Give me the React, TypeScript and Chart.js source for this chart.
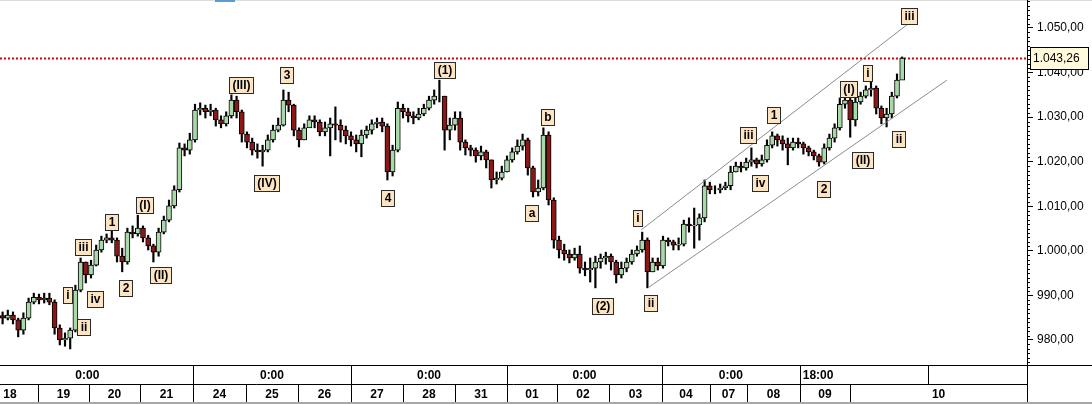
import React, { useEffect, useRef } from "react";
import { Chart, registerables } from "chart.js";

Chart.register(...registerables);

// ---- price data (one candle per slot, open = previous close) ----
const FIRST_OPEN = 985.5;
const LAST_PRICE = 1043.26;

const CLOSE = [
  984.9, 985.6, 984.5, 982.2, 984.9, 988.5, 989.6, 989.0, 989.4, 988.5,
  982.7, 980.0, 980.4, 982.2, 991.2, 997.5, 994.6, 996.8, 1000.2, 1002.4,
  1002.9, 1002.4, 998.8, 997.5, 1004.2, 1003.8, 1005.1, 1002.9, 1001.1, 999.7,
  1004.2, 1006.9, 1010.1, 1013.7, 1023.1, 1022.6, 1024.9, 1031.6, 1032.0, 1031.2,
  1031.6, 1029.4, 1028.5, 1030.3, 1033.8, 1031.2, 1026.2, 1024.4, 1022.6, 1022.2,
  1022.6, 1024.9, 1027.1, 1028.2, 1033.8, 1032.7, 1027.1, 1024.9, 1027.6, 1029.4,
  1028.9, 1026.7, 1027.6, 1028.5, 1028.2, 1027.1, 1025.8, 1024.9, 1024.0, 1026.0,
  1027.1, 1028.5, 1028.9, 1028.0, 1017.7, 1022.6, 1032.0, 1031.2, 1030.3, 1029.8,
  1030.7, 1032.0, 1033.8, 1034.7, 1034.7, 1027.1, 1028.2, 1029.8, 1024.4, 1023.1,
  1022.6, 1021.3, 1022.2, 1020.4, 1015.9, 1016.3, 1017.7, 1020.4, 1022.2, 1023.5,
  1024.9, 1018.6, 1013.2, 1014.1, 1026.0, 1011.4, 1002.4, 1000.2, 999.3, 998.4,
  999.3, 996.1, 995.7, 996.1, 997.5, 998.4, 998.8, 997.5, 994.6, 996.1,
  997.5, 999.3, 1000.2, 1002.4, 995.3, 997.5, 996.6, 1002.4, 1002.0, 1001.3,
  1001.5, 1006.0, 1005.6, 1005.8, 1007.4, 1014.6, 1013.7, 1013.7, 1014.1, 1014.6,
  1017.7, 1019.0, 1018.6, 1019.9, 1020.4, 1019.5, 1020.4, 1023.7, 1025.8, 1024.9,
  1024.0, 1023.1, 1024.4, 1024.0, 1023.1, 1022.2, 1021.3, 1019.9, 1023.1, 1025.3,
  1027.6, 1032.9, 1033.8, 1029.4, 1033.4, 1034.7, 1036.1, 1036.5, 1032.0, 1029.8,
  1030.7, 1034.7, 1038.3, 1043.26,
];

const HIGH = [
  986.3, 986.7, 986.3, 984.9, 986.1, 989.4, 990.5, 990.3, 990.5, 990.5,
  989.0, 983.4, 981.6, 982.7, 992.3, 998.4, 997.5, 997.9, 1001.3, 1003.3,
  1003.8, 1004.5, 1002.9, 1000.6, 1005.1, 1005.6, 1008.0, 1005.6, 1003.5, 1001.5,
  1005.1, 1007.8, 1011.4, 1014.6, 1024.2, 1024.0, 1026.4, 1032.9, 1033.2, 1032.7,
  1032.9, 1032.0, 1030.3, 1031.2, 1035.0, 1034.7, 1031.6, 1026.7, 1025.3, 1024.0,
  1023.7, 1026.0, 1028.2, 1029.8, 1036.1, 1035.6, 1032.9, 1027.6, 1028.5, 1030.3,
  1030.3, 1029.4, 1028.9, 1029.8, 1032.3, 1029.4, 1028.0, 1026.7, 1026.0, 1027.1,
  1028.0, 1029.4, 1029.8, 1029.8, 1028.5, 1023.7, 1033.4, 1032.9, 1032.0, 1031.2,
  1032.0, 1032.9, 1034.7, 1036.1, 1038.3, 1034.7, 1029.8, 1031.2, 1031.2, 1024.9,
  1023.7, 1023.1, 1023.5, 1022.6, 1020.4, 1017.7, 1019.0, 1021.3, 1023.1, 1024.9,
  1026.2, 1025.3, 1019.0, 1015.9, 1027.6, 1026.7, 1011.9, 1003.3, 1001.5, 1000.2,
  1000.6, 1001.1, 997.5, 998.4, 998.8, 999.3, 999.7, 999.3, 997.9, 997.5,
  998.4, 1000.2, 1001.1, 1004.2, 1002.9, 998.4, 998.4, 1003.3, 1002.9, 1002.4,
  1002.9, 1006.9, 1007.4, 1009.6, 1008.3, 1015.9, 1015.4, 1014.6, 1015.0, 1015.4,
  1019.0, 1019.9, 1019.9, 1020.8, 1023.1, 1020.8, 1021.5, 1024.9, 1026.7, 1026.2,
  1025.8, 1025.3, 1025.3, 1025.3, 1024.4, 1023.5, 1022.6, 1021.7, 1024.0, 1026.2,
  1028.5, 1034.3, 1035.0, 1034.7, 1034.3, 1035.6, 1037.0, 1037.9, 1037.0, 1032.5,
  1032.0, 1035.6, 1039.7, 1043.5,
];

const LOW = [
  983.6, 984.5, 983.6, 980.7, 981.3, 984.5, 988.1, 988.1, 988.3, 987.9,
  981.3, 978.9, 978.6, 978.0, 981.8, 990.8, 992.8, 993.9, 996.6, 999.7,
  1001.8, 1001.8, 997.5, 995.3, 997.0, 1002.9, 1003.3, 1002.0, 1000.2, 997.5,
  998.8, 1003.8, 1006.5, 1009.6, 1013.2, 1021.3, 1021.7, 1024.4, 1030.5, 1029.8,
  1030.3, 1028.0, 1027.6, 1028.0, 1029.8, 1029.8, 1024.4, 1023.1, 1021.5, 1020.8,
  1019.0, 1022.2, 1024.4, 1026.7, 1028.0, 1031.2, 1025.8, 1023.3, 1024.9, 1028.0,
  1027.6, 1025.8, 1025.8, 1021.3, 1024.9, 1024.4, 1024.0, 1023.5, 1022.2, 1021.1,
  1025.3, 1026.2, 1027.6, 1026.7, 1015.9, 1016.8, 1022.2, 1029.8, 1028.9, 1028.5,
  1029.4, 1030.3, 1031.6, 1032.9, 1033.4, 1022.6, 1024.9, 1027.1, 1022.6, 1021.5,
  1021.3, 1019.9, 1020.4, 1018.6, 1014.1, 1015.0, 1015.9, 1017.7, 1019.9, 1021.7,
  1022.6, 1017.0, 1012.1, 1012.3, 1013.7, 1010.3, 1000.6, 998.4, 997.9, 997.3,
  997.9, 995.0, 994.4, 993.0, 991.7, 996.1, 997.0, 995.7, 992.8, 993.9,
  995.3, 997.0, 998.8, 999.7, 991.7, 995.3, 995.7, 996.1, 1001.1, 1000.2,
  1000.2, 1001.1, 1004.2, 1000.6, 1002.4, 1006.5, 1012.8, 1012.8, 1013.0, 1013.7,
  1013.7, 1017.7, 1017.7, 1018.1, 1019.0, 1018.6, 1019.0, 1019.9, 1023.1, 1023.5,
  1022.6, 1019.3, 1022.6, 1023.1, 1021.7, 1021.3, 1020.4, 1019.0, 1019.5, 1022.6,
  1024.4, 1027.1, 1032.0, 1025.5, 1028.0, 1032.9, 1034.3, 1034.7, 1030.7, 1028.5,
  1027.8, 1029.8, 1034.3, 1040.6,
];

// ---- time axis (slot units) ----
const X_MIN = -0.5;
const X_MAX = 197;
const DAY_EDGES = [-4, 6.8, 16.6, 26.4, 36.6, 46.8, 56.8, 67.0, 77.0, 87.0, 97.0, 106.6, 116.6, 126.8, 136.0, 143.2, 153.3, 163.0, 197];
const DAY_LABELS = ["18", "19", "20", "21", "24", "25", "26", "27", "28", "31", "01", "02", "03", "04", "07", "08", "09", "10"];
const WEEK_EDGES = [-4, 36.6, 67.0, 97.0, 126.8, 153.3, 178.0, 197];
const WEEK_LABELS = ["0:00", "0:00", "0:00", "0:00", "0:00", "18:00", ""];

// ---- price axis ----
const Y_MIN = 974.39;
const Y_MAX = 1056.28;
const Y_TICKS = [980, 990, 1000, 1010, 1020, 1030, 1040, 1050];

// ---- channel lines ----
const UPPER_X = [122.8, 173.9];
const UPPER_Y = [1004.7, 1050.7];
const LOWER_X = [124.1, 181.6];
const LOWER_Y = [991.7, 1038.3];

// ---- wave labels ----
const WAVE_TEXT = ["i", "ii", "iii", "iv", "1", "2", "(I)", "(II)", "(III)", "3", "(IV)", "4", "(1)", "b", "a", "(2)", "i", "ii", "iii", "iv", "1", "2", "(I)", "(II)", "i", "ii", "iii"];
const WAVE_X = [12.5, 15.6, 15.5, 17.8, 21.0, 23.7, 27.2, 30.3, 45.9, 54.6, 50.8, 74.1, 85.0, 104.8, 101.8, 115.4, 122.1, 124.6, 143.4, 145.6, 148.2, 157.8, 162.7, 165.3, 166.4, 172.2, 174.4];
const WAVE_Y = [990.1, 982.9, 1000.9, 989.2, 1006.5, 991.7, 1010.3, 994.6, 1037.1, 1039.5, 1015.3, 1011.9, 1040.5, 1030.0, 1008.4, 987.7, 1007.3, 988.3, 1026.0, 1015.3, 1030.5, 1013.8, 1036.3, 1020.4, 1039.9, 1025.1, 1052.8];

const FONT = "'Liberation Sans', Arial, sans-serif";
const UP = "#a9d9a9";
const DOWN = "#8a1818";

function fmt(v: number): string {
  const [int, dec] = v.toFixed(2).split(".");
  const withSep = int.replace(/\B(?=(\d{3})+(?!\d))/g, ".");
  return withSep + "," + dec;
}

const overlayPlugin = {
  id: "overlay",
  beforeDatasetsDraw(chart: any) {
    const { ctx, chartArea, scales } = chart;
    const y = Math.round(scales.y.getPixelForValue(LAST_PRICE)) + 0.5;
    ctx.save();
    ctx.strokeStyle = "#d40000";
    ctx.lineWidth = 2;
    ctx.setLineDash([2, 2]);
    ctx.beginPath();
    ctx.moveTo(chartArea.left, y);
    ctx.lineTo(chartArea.right, y);
    ctx.stroke();
    ctx.restore();
  },
  afterDatasetsDraw(chart: any) {
    const { ctx, scales } = chart;
    ctx.save();
    ctx.font = "bold 12px " + FONT;
    ctx.textAlign = "center";
    ctx.textBaseline = "middle";
    ctx.lineWidth = 1;
    WAVE_TEXT.forEach((t, k) => {
      const cx = scales.x.getPixelForValue(WAVE_X[k]);
      const cy = scales.y.getPixelForValue(WAVE_Y[k]);
      const w = Math.round(ctx.measureText(t).width + 6);
      const h = 16;
      const l = Math.round(cx - w / 2) + 0.5;
      const tp = Math.round(cy - h / 2) + 0.5;
      ctx.fillStyle = "#fde5c4";
      ctx.fillRect(l, tp, w, h);
      ctx.strokeStyle = "#2a2a2a";
      ctx.strokeRect(l, tp, w, h);
      ctx.fillStyle = "#000";
      ctx.fillText(t, l + w / 2, tp + h / 2 + 0.5);
    });
    ctx.restore();
  },
  afterDraw(chart: any) {
    const { ctx, chartArea, scales, width, height } = chart;
    const bottom = chartArea.bottom;
    const right = chartArea.right;
    const rowH = 19;
    const xs = scales.x;
    const ys = scales.y;
    ctx.save();
    ctx.lineWidth = 1;
    ctx.strokeStyle = "#000";
    const line = (x1: number, y1: number, x2: number, y2: number) => {
      ctx.beginPath();
      ctx.moveTo(x1, y1);
      ctx.lineTo(x2, y2);
      ctx.stroke();
    };
    // top border + toolbar hint
    ctx.fillStyle = "#dcdcdc";
    ctx.fillRect(0, 0, width, 1);
    ctx.fillStyle = "#5b9bd5";
    ctx.fillRect(215, 0, 20, 2);

    // minor y ticks
    for (let v = Math.ceil(Y_MIN); v <= Math.floor(Y_MAX); v++) {
      if (v % 10 === 0) continue;
      const py = Math.round(ys.getPixelForValue(v)) + 0.5;
      line(right, py, right + 3, py);
    }

    // time axis panel
    line(0, bottom + 0.5, width, bottom + 0.5);
    line(0, bottom + rowH + 0.5, right, bottom + rowH + 0.5);
    line(right + 0.5, 0, right + 0.5, height);
    ctx.font = "bold 12px " + FONT;
    ctx.fillStyle = "#000";
    ctx.textBaseline = "middle";
    ctx.save();
    ctx.beginPath();
    ctx.rect(0, bottom, right, height - bottom);
    ctx.clip();
    for (let k = 0; k < WEEK_LABELS.length; k++) {
      const a = xs.getPixelForValue(WEEK_EDGES[k]);
      const b = xs.getPixelForValue(WEEK_EDGES[k + 1]);
      if (k > 0) line(Math.round(a) + 0.5, bottom, Math.round(a) + 0.5, bottom + rowH);
      const t = WEEK_LABELS[k];
      if (t === "0:00") {
        ctx.textAlign = "center";
        ctx.fillText(t, (a + b) / 2, bottom + rowH / 2 + 1);
      } else if (t) {
        ctx.textAlign = "left";
        ctx.fillText(t, a + 3, bottom + rowH / 2 + 1);
      }
    }
    for (let k = 0; k < DAY_LABELS.length; k++) {
      const a = xs.getPixelForValue(DAY_EDGES[k]);
      const b = xs.getPixelForValue(DAY_EDGES[k + 1]);
      if (k > 0) line(Math.round(a) + 0.5, bottom + rowH, Math.round(a) + 0.5, bottom + 2 * rowH);
      ctx.textAlign = "center";
      ctx.fillText(DAY_LABELS[k], (a + b) / 2, bottom + rowH * 1.5 + 1);
    }
    ctx.restore();
    ctx.fillStyle = "#a8a8a8";
    ctx.fillRect(0, height - 2, width, 2);

    // last price tag
    const py = Math.round(ys.getPixelForValue(LAST_PRICE));
    ctx.fillStyle = "#fffbdc";
    ctx.fillRect(right + 3.5, py - 10.5, 58, 22);
    ctx.strokeStyle = "#000";
    ctx.strokeRect(right + 3.5, py - 10.5, 58, 22);
    ctx.fillStyle = "#000";
    ctx.font = "12px " + FONT;
    ctx.textAlign = "left";
    ctx.textBaseline = "middle";
    ctx.fillText(fmt(LAST_PRICE), right + 6, py + 1);
    ctx.restore();
  },
};

export default function App() {
  const ref = useRef<HTMLCanvasElement>(null);
  useEffect(() => {
    document.body.style.margin = "0";
    const canvas = ref.current!;
    const opens = CLOSE.map((c, i) => (i === 0 ? FIRST_OPEN : CLOSE[i - 1]));
    const wickData = CLOSE.map((_, i) => ({ x: i, y: [LOW[i], HIGH[i]] }));
    const bodyData = CLOSE.map((c, i) => ({ x: i, y: [opens[i], c] }));
    const bodyColors = CLOSE.map((c, i) => (c >= opens[i] ? UP : DOWN));
    const chart = new Chart(canvas, {
      type: "bar",
      data: {
        datasets: [
          {
            type: "line",
            data: UPPER_X.map((x, i) => ({ x, y: UPPER_Y[i] })),
            borderColor: "#8c8c8c",
            borderWidth: 1,
            pointRadius: 0,
            order: 1,
          } as any,
          {
            type: "line",
            data: LOWER_X.map((x, i) => ({ x, y: LOWER_Y[i] })),
            borderColor: "#8c8c8c",
            borderWidth: 1,
            pointRadius: 0,
            order: 1,
          } as any,
          {
            type: "bar",
            data: wickData as any,
            backgroundColor: "#000",
            barThickness: 1.5,
            grouped: false,
            order: 3,
          } as any,
          {
            type: "bar",
            data: bodyData as any,
            backgroundColor: bodyColors,
            borderColor: "#000",
            borderWidth: 1,
            borderSkipped: false,
            barThickness: 5,
            grouped: false,
            order: 2,
          } as any,
        ],
      },
      options: {
        responsive: false,
        animation: false,
        devicePixelRatio: 1,
        layout: { padding: { left: 0, right: 0, top: 0, bottom: 39 } },
        plugins: { legend: { display: false }, tooltip: { enabled: false } },
        scales: {
          x: {
            type: "linear",
            min: X_MIN,
            max: X_MAX,
            offset: false,
            display: false,
          },
          y: {
            type: "linear",
            position: "right",
            min: Y_MIN,
            max: Y_MAX,
            beginAtZero: false,
            afterBuildTicks: (scale: any) => {
              scale.ticks = Y_TICKS.map((v) => ({ value: v }));
            },
            afterFit: (scale: any) => {
              scale.width = 65;
              scale.paddingTop = 0;
              scale.paddingBottom = 0;
            },
            grid: {
              display: true,
              drawOnChartArea: false,
              drawTicks: true,
              tickLength: 6,
              color: "#000",
            },
            border: { display: true, color: "#000" },
            ticks: {
              padding: 4,
              color: "#000",
              font: { family: FONT, size: 12 },
              callback: (v: any) => fmt(Number(v)),
            },
          },
        },
      } as any,
      plugins: [overlayPlugin],
    });
    return () => chart.destroy();
  }, []);
  return (
    <div style={{ width: 1092, height: 404 }}>
      <canvas ref={ref} width={1092} height={404} style={{ display: "block" }} />
    </div>
  );
}
